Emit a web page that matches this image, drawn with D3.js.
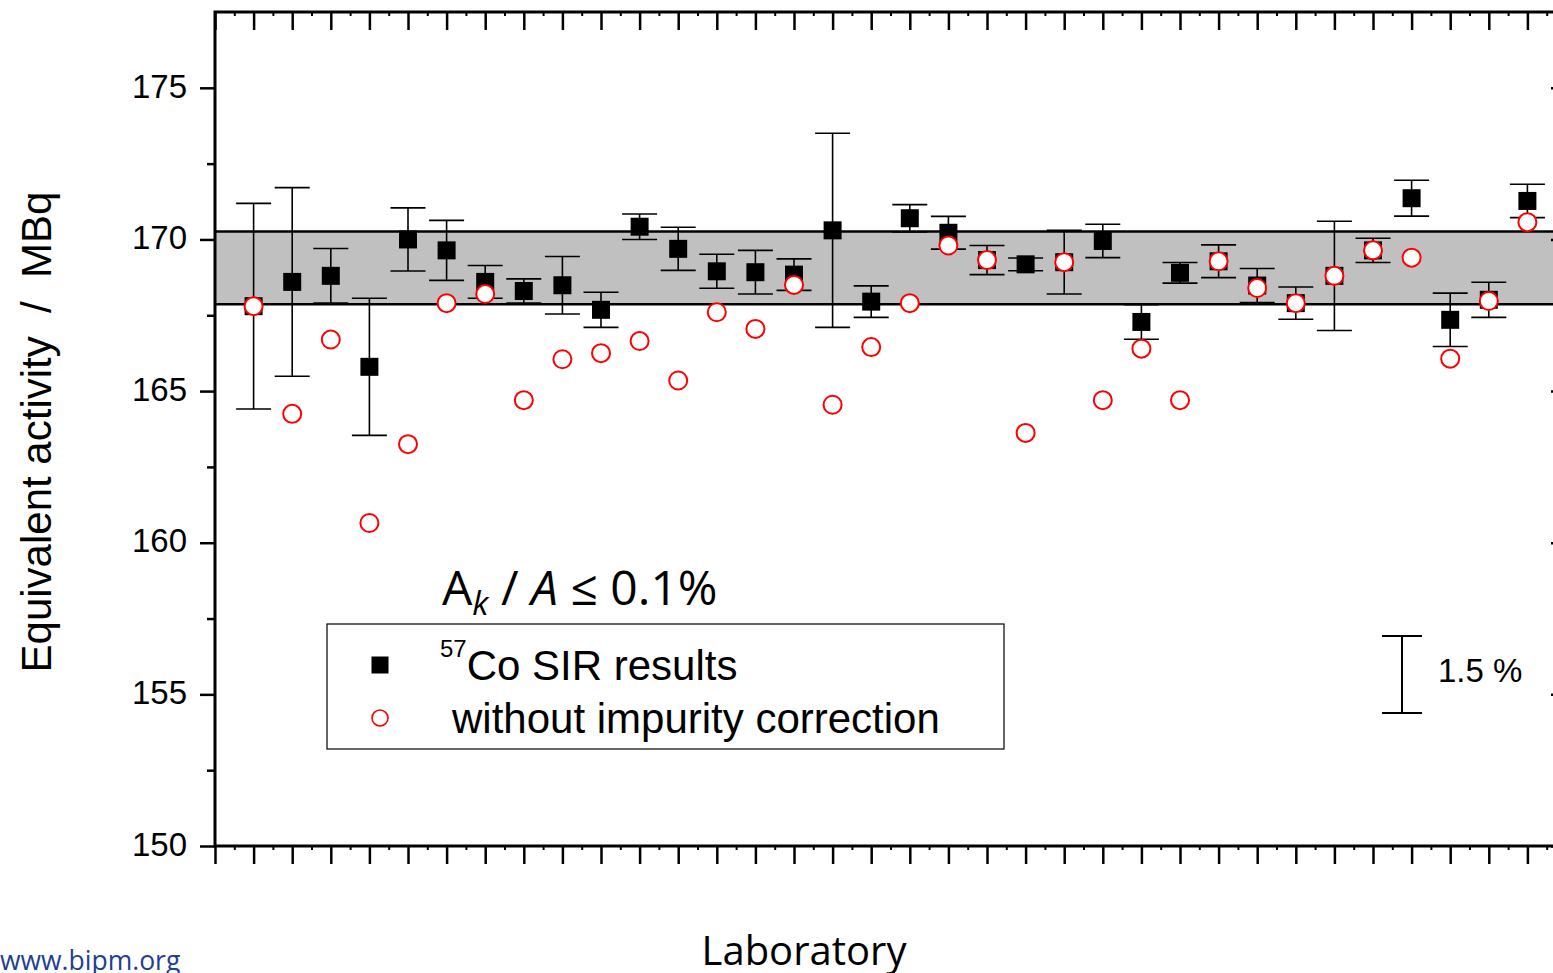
<!DOCTYPE html>
<html>
<head>
<meta charset="utf-8">
<script src="https://cdn.jsdelivr.net/npm/d3@7"></script>
<style>
    body { margin: 0; background: #fff; overflow: hidden; }
    svg { display: block; font-family: "Liberation Sans", Arial, sans-serif; }
</style>
</head>
<body>
<svg id="chart" width="1553" height="973"></svg>
<script>
/**
 * Data.
 */
const labs = d3.range(1, 35);
const sirValues = [
    167.8, 168.6, 168.8, 165.8, 170.0, 169.64, 168.6, 168.3, 168.49, 167.68,
    170.42, 169.69, 168.95, 168.92, 168.84, 170.3, 167.95, 170.7, 170.22, 169.32,
    169.18, 169.25, 169.95, 167.28, 168.9, 169.28, 168.48, 167.9, 168.8, 169.64,
    171.36, 167.35, 168.01, 171.27
];
const sirUncertainty = [
    3.39, 3.11, 0.9, 2.26, 1.04, 0.99, 0.54, 0.4, 0.95, 0.58,
    0.42, 0.71, 0.56, 0.72, 0.52, 3.2, 0.52, 0.45, 0.54, 0.48,
    0.21, 1.05, 0.55, 0.57, 0.34, 0.54, 0.56, 0.53, 1.8, 0.4,
    0.59, 0.88, 0.58, 0.55
];
const uncorrectedValues = [
    167.8, 164.25, 166.7, 160.65, 163.25, 167.9, 168.2, 164.7, 166.05, 166.25,
    166.65, 165.35, 167.6, 167.05, 168.5, 164.55, 166.45, 167.9, 169.8, 169.32,
    163.62, 169.25, 164.7, 166.4, 164.7, 169.28, 168.4, 167.9, 168.8, 169.64,
    169.4, 166.07, 167.97, 170.57
];
const yTicks = [150, 155, 160, 165, 170, 175];
const yMinorTicks = [152.5, 157.5, 162.5, 167.5, 172.5];
const kcrvBand = [167.86, 170.26];
const kcrvValue = 169.06;
const scaleBarPercent = 1.5;

/**
 * A scatter of lab results with error bars, a reference band and a legend.
 */
function sirChart() {
    /**
     * Visual configs.
     */
    const plot = { left: 215, right: 1566, top: 12, bottom: 846 },
        xDomain = [0, 35],
        yDomain = [150, 177.5],
        squareSize = 18,
        circleRadius = 9,
        capWidth = 35;

    const xScale = d3.scaleLinear().domain(xDomain).range([plot.left, plot.right]),
        yScale = d3.scaleLinear().domain(yDomain).range([plot.bottom, plot.top]);

    function module(selection) {
        selection.each(function() {
            const svg = d3.select(this);
            const rows = labs.map((lab, i) => ({
                lab: lab,
                value: sirValues[i],
                u: sirUncertainty[i],
                raw: uncorrectedValues[i]
            }));

            drawBand(svg);
            drawPoints(svg, rows);
            drawAxes(svg);
            drawLegend(svg);
            drawLabels(svg);
        });
    }

    /**
     * Grey band of the reference value.
     */
    function drawBand(svg) {
        const g = svg.append('g').attr('class', 'band');
        g.append('rect')
            .attr('x', xScale(xDomain[0]))
            .attr('y', yScale(kcrvBand[1]))
            .attr('width', xScale(xDomain[1]) - xScale(xDomain[0]))
            .attr('height', yScale(kcrvBand[0]) - yScale(kcrvBand[1]))
            .attr('fill', '#c0c0c0');
        g.selectAll('line').data(kcrvBand).enter().append('line')
            .attr('x1', xScale(xDomain[0]))
            .attr('x2', xScale(xDomain[1]))
            .attr('y1', d => yScale(d))
            .attr('y2', d => yScale(d))
            .attr('stroke', '#000')
            .attr('stroke-width', 2.5);
    }

    /**
     * Error bars, squares and open circles.
     */
    function drawPoints(svg, rows) {
        const bars = svg.append('g').attr('class', 'errorbars')
            .attr('stroke', '#000').attr('stroke-width', 1.6)
            .selectAll('g').data(rows).enter().append('g');

        bars.append('line')
            .attr('x1', d => xScale(d.lab)).attr('x2', d => xScale(d.lab))
            .attr('y1', d => yScale(d.value + d.u)).attr('y2', d => yScale(d.value - d.u));
        bars.append('line')
            .attr('x1', d => xScale(d.lab) - capWidth / 2).attr('x2', d => xScale(d.lab) + capWidth / 2)
            .attr('y1', d => yScale(d.value + d.u)).attr('y2', d => yScale(d.value + d.u));
        bars.append('line')
            .attr('x1', d => xScale(d.lab) - capWidth / 2).attr('x2', d => xScale(d.lab) + capWidth / 2)
            .attr('y1', d => yScale(d.value - d.u)).attr('y2', d => yScale(d.value - d.u));

        svg.append('g').attr('class', 'squares')
            .selectAll('rect').data(rows).enter().append('rect')
            .attr('x', d => xScale(d.lab) - squareSize / 2)
            .attr('y', d => yScale(d.value) - squareSize / 2)
            .attr('width', squareSize)
            .attr('height', squareSize)
            .attr('fill', '#000');

        svg.append('g').attr('class', 'circles')
            .selectAll('circle').data(rows).enter().append('circle')
            .attr('cx', d => xScale(d.lab))
            .attr('cy', d => yScale(d.raw))
            .attr('r', circleRadius)
            .attr('fill', '#fff')
            .attr('stroke', '#f00')
            .attr('stroke-width', 2);
    }

    /**
     * Frame with ticks on all four sides.
     */
    function drawAxes(svg) {
        const majorX = d3.range(xDomain[0], xDomain[1] + 1),
            minorX = d3.range(xDomain[0] + 0.5, xDomain[1], 1);

        const axes = [
            // [axis, transform, tick width]
            [d3.axisLeft(yScale).tickValues(yTicks).tickSize(15).tickPadding(13).tickFormat(d3.format('d')), 'translate(' + plot.left + ',0)', 2.5],
            [d3.axisLeft(yScale).tickValues(yMinorTicks).tickSize(8).tickFormat(''), 'translate(' + plot.left + ',0)', 2.5],
            [d3.axisRight(yScale).tickValues(yTicks).tickSize(-15).tickFormat(''), 'translate(' + plot.right + ',0)', 2.5],
            [d3.axisRight(yScale).tickValues(yMinorTicks).tickSize(-8).tickFormat(''), 'translate(' + plot.right + ',0)', 2.5],
            [d3.axisBottom(xScale).tickValues(majorX).tickSize(18).tickFormat(''), 'translate(0,' + plot.bottom + ')', 2.5],
            [d3.axisBottom(xScale).tickValues(minorX).tickSize(4).tickFormat(''), 'translate(0,' + plot.bottom + ')', 2],
            [d3.axisTop(xScale).tickValues(majorX).tickSize(-18).tickFormat(''), 'translate(0,' + plot.top + ')', 2.5],
            [d3.axisTop(xScale).tickValues(minorX).tickSize(-4).tickFormat(''), 'translate(0,' + plot.top + ')', 2]
        ];

        axes.forEach(a => {
            const g = svg.append('g').attr('transform', a[1]).call(a[0]);
            g.select('.domain').remove();
            g.selectAll('.tick line').attr('stroke', '#000').attr('stroke-width', a[2]);
            g.selectAll('.tick text')
                .attr('fill', '#000')
                .attr('dy', '0.28em')
                .style('font-size', '33px')
                .style('font-family', '"Liberation Sans", Arial, sans-serif');
        });

        svg.append('rect')
            .attr('x', plot.left)
            .attr('y', plot.top)
            .attr('width', plot.right - plot.left)
            .attr('height', plot.bottom - plot.top)
            .attr('fill', 'none')
            .attr('stroke', '#000')
            .attr('stroke-width', 3);
    }

    /**
     * Legend box and the 1.5 % scale bar.
     */
    function drawLegend(svg) {
        const g = svg.append('g').attr('class', 'legend');
        g.append('rect')
            .attr('x', 327).attr('y', 624)
            .attr('width', 677).attr('height', 125)
            .attr('fill', 'none')
            .attr('stroke', '#000')
            .attr('stroke-width', 1.2);

        g.append('rect')
            .attr('x', 380 - 8.5).attr('y', 665 - 8.5)
            .attr('width', 17).attr('height', 17)
            .attr('fill', '#000');
        g.append('circle')
            .attr('cx', 380).attr('cy', 718).attr('r', 8)
            .attr('fill', '#fff').attr('stroke', '#f00').attr('stroke-width', 1.6);

        const t1 = g.append('text').attr('x', 440).attr('y', 680).style('font-size', '42px');
        t1.append('tspan').attr('dy', -23).style('font-size', '24px').text('57');
        t1.append('tspan').attr('dy', 23).text('Co SIR results');

        g.append('text').attr('x', 452).attr('y', 733).style('font-size', '42px')
            .text('without impurity correction');

        // Scale bar showing 1.5 % of the reference value
        const half = kcrvValue * scaleBarPercent / 100 / 2,
            mid = yScale.invert(674.5),
            sx = 1402;
        const bar = g.append('g').attr('stroke', '#000').attr('stroke-width', 2);
        bar.append('line').attr('x1', sx).attr('x2', sx)
            .attr('y1', yScale(mid + half)).attr('y2', yScale(mid - half));
        [mid + half, mid - half].forEach(v => {
            bar.append('line').attr('x1', sx - 20).attr('x2', sx + 20)
                .attr('y1', yScale(v)).attr('y2', yScale(v));
        });
        g.append('text').attr('x', 1438).attr('y', 682).style('font-size', '33px')
            .text(scaleBarPercent + ' %');
    }

    /**
     * Titles and annotations.
     */
    function drawLabels(svg) {
        svg.append('text')
            .attr('transform', 'translate(51,432) rotate(-90)')
            .attr('text-anchor', 'middle')
            .style('font-size', '42px')
            .style('white-space', 'pre')
            .text('Equivalent activity  /  MBq');

        const note = svg.append('text')
            .attr('x', 442).attr('y', 605)
            .style('font-family', '"Open Sans", sans-serif')
            .style('font-size', '48px');
        note.append('tspan').text('A');
        note.append('tspan').attr('dy', 10).style('font-style', 'italic').style('font-size', '33px').text('k');
        note.append('tspan').attr('dy', -10).text(' / ');
        note.append('tspan').style('font-style', 'italic').text('A');
        note.append('tspan').text(' \u2264 0.1%');

        svg.append('text')
            .attr('x', 804).attr('y', 965)
            .attr('text-anchor', 'middle')
            .style('font-family', '"Open Sans", sans-serif')
            .style('font-size', '40px')
            .text('Laboratory');

        svg.append('text')
            .attr('x', 0).attr('y', 970)
            .style('font-family', '"Open Sans", sans-serif')
            .style('font-size', '26.5px')
            .attr('fill', '#22408f')
            .text('www.bipm.org');
    }

    return module;
}

d3.select('#chart').call(sirChart());
</script>
</body>
</html>
